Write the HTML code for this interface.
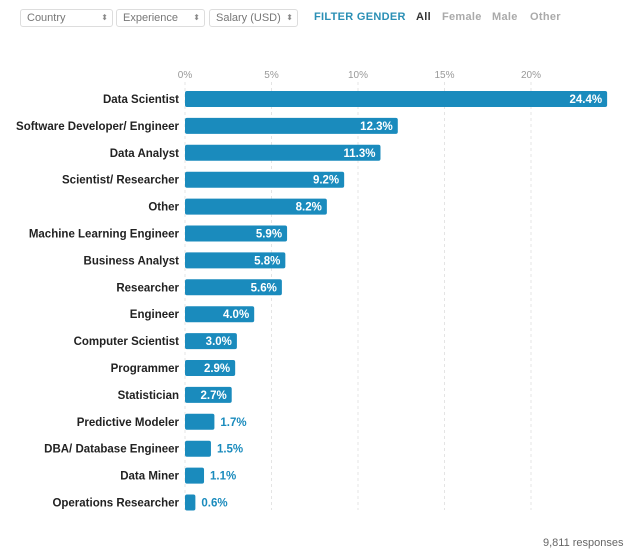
<!DOCTYPE html>
<html><head><meta charset="utf-8"><style>
body{margin:0;background:#fff;font-family:"Liberation Sans",sans-serif;}
.sel{position:absolute;top:9px;height:16px;border:1px solid #ddd;border-radius:3px;font-size:11px;color:#777;line-height:16px;padding-left:6px;box-sizing:content-box}
.sel span{position:absolute;right:4px;font-size:8px;color:#888}
.g{position:absolute;top:11px;font-size:11px;font-weight:bold;letter-spacing:0.3px}
</style></head><body>
<div style="position:relative;width:640px;height:556px;overflow:hidden">
<div class="sel" style="left:20px;width:85px">Country<span>⬍</span></div>
<div class="sel" style="left:116px;width:81px">Experience<span>⬍</span></div>
<div class="sel" style="left:209px;width:81px">Salary (USD)<span>⬍</span></div>
<div class="g" style="left:314px;color:#2a8fb5">FILTER GENDER</div>
<div class="g" style="left:416px;color:#333">All</div>
<div class="g" style="left:442px;color:#aaa">Female</div>
<div class="g" style="left:492px;color:#aaa">Male</div>
<div class="g" style="left:530px;color:#aaa">Other</div>
<svg id="c" width="640" height="556" style="position:absolute;left:0;top:0"></svg>
<div style="position:absolute;left:543px;top:537px;font-size:11px;color:#666">9,811 responses</div>
</div>
<script>
const categories=["Data Scientist","Software Developer/ Engineer","Data Analyst","Scientist/ Researcher","Other","Machine Learning Engineer","Business Analyst","Researcher","Engineer","Computer Scientist","Programmer","Statistician","Predictive Modeler","DBA/ Database Engineer","Data Miner","Operations Researcher"];
const values=[24.4,12.3,11.3,9.2,8.2,5.9,5.8,5.6,4.0,3.0,2.9,2.7,1.7,1.5,1.1,0.6];
const ticks=[0,5,10,15,20];
const svg=document.getElementById('c');const NS='http://www.w3.org/2000/svg';
const x=v=>185+v*17.3;const y=i=>99+i*26.9;
function mk(t,a){const e=document.createElementNS(NS,t);for(const k in a)e.setAttribute(k,a[k]);svg.appendChild(e);return e;}
ticks.forEach(t=>{
 const l=mk('line',{x1:x(t),x2:x(t),y1:82,y2:510,stroke:'#e4e4e4','stroke-dasharray':'3,3'});
 
 
 const tx=mk('text',{x:x(t),y:78,'text-anchor':'middle','font-size':10,fill:'#999'});tx.textContent=t+'%';
 
 
});
categories.forEach((c,i)=>{
 const cy=y(i);
 const lb=mk('text',{x:179,y:cy+4,'text-anchor':'end','font-size':11.5,'font-weight':'bold',fill:'#222'});lb.textContent=c;
 
 
 const w=values[i]*17.3;
 const r=mk('rect',{x:185,y:cy-8,width:w,height:16,rx:2,fill:'#1a8bbd'});
 
 
 const inside=values[i]>=2;
 const v=mk('text',{x:inside?185+w-5:185+w+6,y:cy+4,'text-anchor':inside?'end':'start','font-size':11.5,'font-weight':'bold',fill:inside?'#fff':'#1a8bbd'});
 v.textContent=values[i].toFixed(1)+'%';
 
 
});
</script>
</body></html>
